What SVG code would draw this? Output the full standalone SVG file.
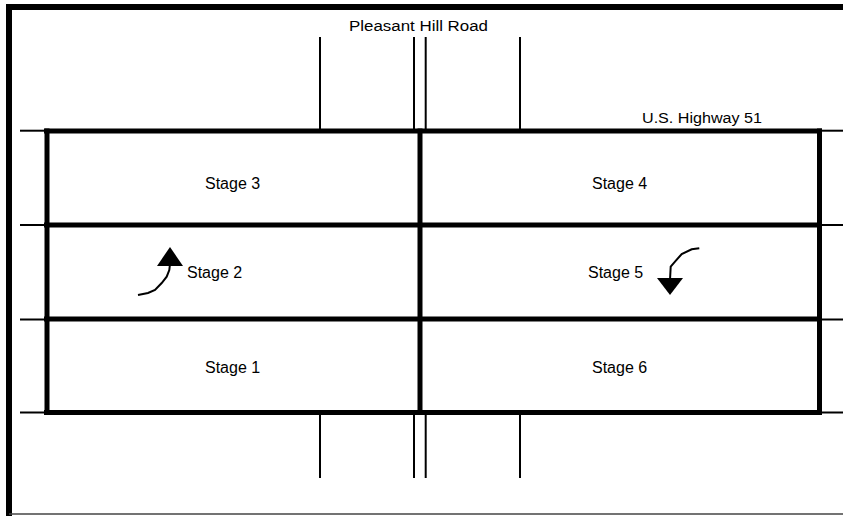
<svg xmlns="http://www.w3.org/2000/svg" width="843" height="516" viewBox="0 0 843 516">
<style>
.t{font-family:"Liberation Sans",Arial,sans-serif;font-size:16px;fill:#000}
.s{font-family:"Liberation Sans",Arial,sans-serif;font-size:14px;fill:#000}
.thick{stroke:#000;stroke-width:5;fill:none}
.thin{stroke:#000;stroke-width:2;fill:none}
</style>
<rect width="843" height="516" fill="#fff"/>
<g id="frame">
<path d="M9,516 V7 H843" stroke="#000" stroke-width="6" fill="none"/>
<line x1="9" y1="514" x2="843" y2="514" stroke="#444" stroke-width="1.5"/>
</g>
<g id="roads">
<line class="thin" x1="320" y1="37" x2="320" y2="130"/>
<line class="thin" x1="414" y1="37" x2="414" y2="130"/>
<line class="thin" x1="425.7" y1="37" x2="425.7" y2="130"/>
<line class="thin" x1="520" y1="37" x2="520" y2="130"/>
<line class="thin" x1="320" y1="412" x2="320" y2="478"/>
<line class="thin" x1="414" y1="412" x2="414" y2="478"/>
<line class="thin" x1="425.7" y1="412" x2="425.7" y2="478"/>
<line class="thin" x1="520" y1="412" x2="520" y2="478"/>
<line class="thin" x1="20" y1="130.7" x2="46" y2="130.7"/>
<line class="thin" x1="20" y1="225" x2="46" y2="225"/>
<line class="thin" x1="20" y1="319.5" x2="46" y2="319.5"/>
<line class="thin" x1="20" y1="412.5" x2="46" y2="412.5"/>
<line class="thin" x1="820" y1="130.7" x2="843" y2="130.7"/>
<line class="thin" x1="820" y1="225" x2="843" y2="225"/>
<line class="thin" x1="820" y1="319.5" x2="843" y2="319.5"/>
<line class="thin" x1="820" y1="412.5" x2="843" y2="412.5"/>
</g>
<g id="grid">
<line class="thick" x1="44" y1="131" x2="822" y2="131"/>
<line class="thick" x1="44" y1="225" x2="822" y2="225"/>
<line class="thick" x1="44" y1="319" x2="822" y2="319"/>
<line class="thick" x1="44" y1="412.5" x2="822" y2="412.5"/>
<line class="thick" x1="47" y1="128.5" x2="47" y2="415" stroke-width="6"/>
<line class="thick" x1="420" y1="128.5" x2="420" y2="415" stroke-width="6"/>
<line class="thick" x1="819.5" y1="128.5" x2="819.5" y2="415" stroke-width="6"/>
</g>
<g id="labels">
<text class="s" x="349" y="31" textLength="139" lengthAdjust="spacingAndGlyphs">Pleasant Hill Road</text>
<text class="s" x="642" y="123" textLength="120" lengthAdjust="spacingAndGlyphs">U.S. Highway 51</text>
</g>
<g id="stage3"><text class="t" x="205" y="189">Stage 3</text></g>
<g id="stage4"><text class="t" x="592" y="189">Stage 4</text></g>
<g id="stage2"><text class="t" x="187" y="278">Stage 2</text></g>
<g id="stage5"><text class="t" x="588" y="278">Stage 5</text></g>
<g id="stage1"><text class="t" x="205" y="373">Stage 1</text></g>
<g id="stage6"><text class="t" x="592" y="373">Stage 6</text></g>
<g id="connectors">
<path d="M138,295 L148,293 L155,290 L161.7,283 L166.7,276.7 L169.3,270 L170,264" stroke="#000" stroke-width="2" fill="none"/>
<polygon points="170,247 157,266 183,266" fill="#000"/>
<path d="M699.3,248.3 L691.7,249.3 L681.7,254 L675,261.7 L670.7,266.7 L670,280" stroke="#000" stroke-width="2" fill="none"/>
<polygon points="657,278 683,278 670,295" fill="#000"/>
</g>
</svg>
